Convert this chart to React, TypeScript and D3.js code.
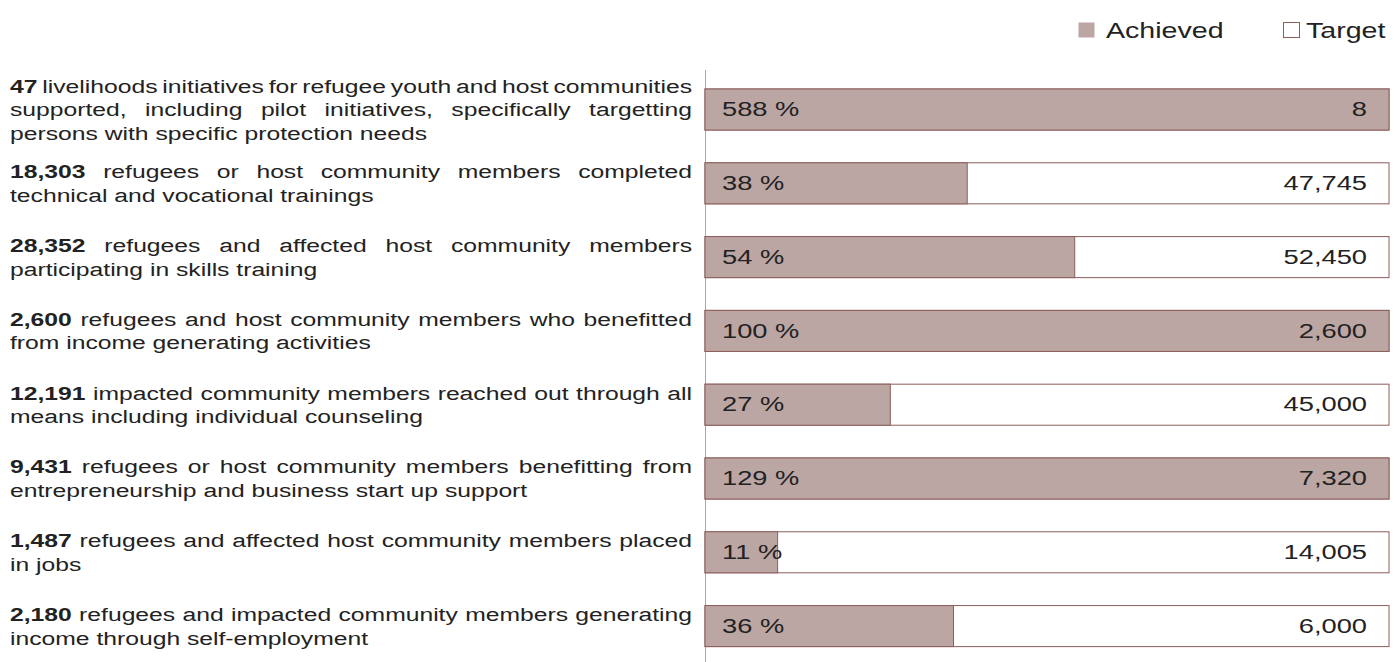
import React, { useEffect, useRef } from "react";
import * as d3 from "d3";

const achieved = [47, 18303, 28352, 2600, 12191, 9431, 1487, 2180];
const targets = [8, 47745, 52450, 2600, 45000, 7320, 14005, 6000];
const descriptions: string[][] = [
  [
    " livelihoods initiatives for refugee youth and host communities",
    "supported, including pilot initiatives, specifically targetting",
    "persons with specific protection needs",
  ],
  [" refugees or host community members completed", "technical and vocational trainings"],
  [" refugees and affected host community members", "participating in skills training"],
  [" refugees and host community members who benefitted", "from income generating activities"],
  [" impacted community members reached out through all", "means including individual counseling"],
  [" refugees or host community members benefitting from", "entrepreneurship and business start up support"],
  [" refugees and affected host community members placed", "in jobs"],
  [" refugees and impacted community members generating", "income through self-employment"],
];
const legendLabels = ["Achieved", "Target"];

const W = 1396;
const H = 662;
const SX = 1.3;
const FILL = "#bca6a4";
const STROKE = "#8c5e5b";
const TEXT = "#222222";
const FONT = "'Liberation Sans', Arial, Helvetica, sans-serif";

export default function App() {
  const ref = useRef<SVGSVGElement>(null);

  useEffect(() => {
    const svg = d3.select(ref.current);
    svg.selectAll("*").remove();

    const ids = achieved.map((_, i) => String(i));
    const y = d3
      .scaleBand<string>()
      .domain(ids)
      .range([89, 646.6])
      .paddingInner(0.444)
      .paddingOuter(0);
    const x = d3.scaleLinear().domain([0, 1]).range([705, 1389]);
    const fmt = d3.format(",");

    // axis line
    svg
      .append("line")
      .attr("x1", 705.5)
      .attr("x2", 705.5)
      .attr("y1", 70)
      .attr("y2", H)
      .attr("stroke", "#a8a8a8")
      .attr("stroke-width", 1);

    const g = svg
      .selectAll("g.row")
      .data(ids)
      .join("g")
      .attr("class", "row");

    // target (full) bars
    g.append("rect")
      .attr("x", x(0))
      .attr("y", (d) => y(d)!)
      .attr("width", x(1) - x(0))
      .attr("height", y.bandwidth())
      .attr("fill", "#ffffff")
      .attr("stroke", STROKE)
      .attr("stroke-width", 1);

    // achieved bars
    g.append("rect")
      .attr("x", x(0))
      .attr("y", (d) => y(d)!)
      .attr("width", (d) => x(Math.min(1, achieved[+d] / targets[+d])) - x(0))
      .attr("height", y.bandwidth())
      .attr("fill", FILL)
      .attr("stroke", STROKE)
      .attr("stroke-width", 1);

    // percent labels
    g.append("text")
      .attr(
        "transform",
        (d) => `translate(722,${y(d)! + y.bandwidth() / 2 + 6.8}) scale(${SX},1)`
      )
      .attr("font-family", FONT)
      .attr("font-size", 21)
      .attr("fill", TEXT)
      .text((d) => `${Math.round((achieved[+d] / targets[+d]) * 100)} %`);

    // target values
    g.append("text")
      .attr(
        "transform",
        (d) => `translate(1367,${y(d)! + y.bandwidth() / 2 + 6.8}) scale(${SX},1)`
      )
      .attr("text-anchor", "end")
      .attr("font-family", FONT)
      .attr("font-size", 21)
      .attr("fill", TEXT)
      .text((d) => fmt(targets[+d]));

    // descriptions
    const LH = 23.5;
    const LEFT = 10;
    const RIGHT = 692;
    ids.forEach((id) => {
      const i = +id;
      const lines = descriptions[i];
      const cy = y(id)! + y.bandwidth() / 2;
      const top = cy - ((lines.length - 1) * LH) / 2;
      lines.forEach((line, j) => {
        const t = svg
          .append("text")
          .attr("transform", `translate(${LEFT},${top + j * LH + 6.7}) scale(${SX},1)`)
          .attr("font-family", FONT)
          .attr("font-size", 19)
          .attr("fill", TEXT);
        if (j === 0) {
          t.append("tspan").attr("font-weight", "bold").text(fmt(achieved[i]));
        }
        t.append("tspan").text(line);
        if (j < lines.length - 1) {
          const node = t.node() as SVGTextElement;
          const len = node.getComputedTextLength();
          const full = (j === 0 ? fmt(achieved[i]) : "") + line;
          const spaces = (full.match(/ /g) || []).length;
          const target = (RIGHT - LEFT) / SX;
          if (spaces > 0) t.attr("word-spacing", (target - len) / spaces);
        }
      });
    });

    // legend
    const legend = [
      { label: legendLabels[0], sx: 1078, tx: 1106, fill: FILL, stroke: "none" },
      { label: legendLabels[1], sx: 1283, tx: 1306, fill: "#ffffff", stroke: STROKE },
    ];
    legend.forEach((l) => {
      svg
        .append("rect")
        .attr("x", l.sx + 0.5)
        .attr("y", 22.5)
        .attr("width", 16)
        .attr("height", 15)
        .attr("fill", l.fill)
        .attr("stroke", l.stroke);
      svg
        .append("text")
        .attr("transform", `translate(${l.tx},38) scale(${SX},1)`)
        .attr("font-family", FONT)
        .attr("font-size", 22)
        .attr("fill", TEXT)
        .text(l.label);
    });
  }, []);

  return (
    <svg
      ref={ref}
      width={W}
      height={H}
      style={{ position: "absolute", left: 0, top: 0, background: "#ffffff" }}
    />
  );
}
